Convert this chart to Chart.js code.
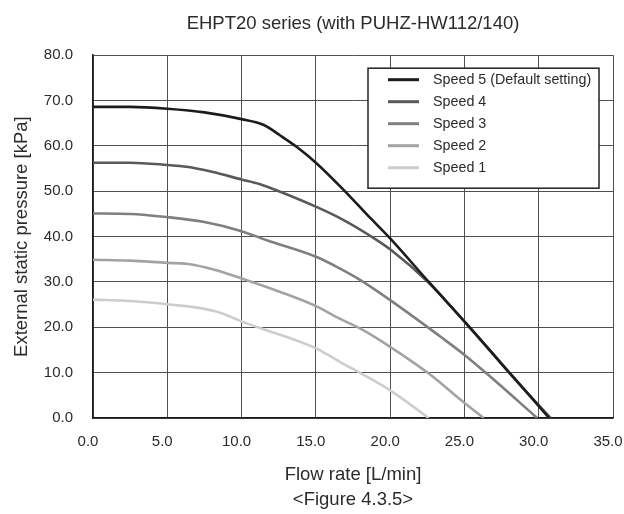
<!DOCTYPE html>
<html>
<head>
<meta charset="utf-8">
<script src="https://cdn.jsdelivr.net/npm/chart.js@4/dist/chart.umd.min.js"></script>
<style>
  html, body { margin: 0; padding: 0; background: #fff; }
  #wrap { width: 624px; height: 514px; }
</style>
</head>
<body>
<div id="wrap"><canvas id="chart" width="624" height="514"></canvas></div>
<script>
// values
const speedLabels = ['Speed 5 (Default setting)', 'Speed 4', 'Speed 3', 'Speed 2', 'Speed 1'];

const speed5Flow = [0, 2.5, 5, 7.5, 10, 11.5, 12.6, 13.7, 15, 16.9, 18.4, 20, 22.6, 25.2, 28.3, 30.7];
const speed5Pres = [68.6, 68.6, 68.2, 67.4, 65.9, 64.6, 62.3, 59.8, 56.3, 50.2, 45.0, 39.6, 30.0, 20.6, 9.0, 0];

const speed4Flow = [0, 2.5, 5, 6.3, 8, 10, 11.2, 12.6, 15, 16.9, 18.6, 20, 22.6, 25.2, 28.3, 30.8];
const speed4Pres = [56.3, 56.3, 55.8, 55.4, 54.3, 52.6, 51.6, 49.9, 46.6, 43.6, 40.3, 37.2, 29.8, 20.5, 8.9, 0];

const speed3Flow = [0, 2.5, 5, 7.5, 10, 11.7, 15.05, 16.6, 18, 20, 22.5, 23.4, 25.05, 26.5, 29.9];
const speed3Pres = [45.1, 45.0, 44.3, 43.2, 41.2, 39.2, 35.5, 33.0, 30.4, 26.0, 20.1, 17.9, 13.8, 9.8, 0];

const speed2Flow = [0, 2.5, 5, 6.3, 8.3, 10.07, 12.6, 15.05, 16.6, 18, 20, 22.6, 25.05, 26.3];
const speed2Pres = [34.9, 34.7, 34.2, 34.0, 32.6, 30.7, 27.8, 24.6, 21.9, 19.7, 15.7, 9.8, 3.2, 0];

const speed1Flow = [0, 2.5, 5, 8.3, 10.07, 11.2, 15.05, 16.6, 18, 20, 22.6];
const speed1Pres = [26.1, 25.8, 25.1, 23.5, 21.2, 19.9, 15.3, 12.4, 9.9, 6.1, 0];

const speedColors = ['#1c1c1c', '#595959', '#7f7f7f', '#a3a3a3', '#cdcdcd'];

function toPoints(xs, ys) {
  return xs.map((x, i) => ({ x: x, y: ys[i] }));
}

const series = [
  toPoints(speed5Flow, speed5Pres),
  toPoints(speed4Flow, speed4Pres),
  toPoints(speed3Flow, speed3Pres),
  toPoints(speed2Flow, speed2Pres),
  toPoints(speed1Flow, speed1Pres)
];

const FONT = "'Liberation Sans', Arial, sans-serif";
const TEXT = '#2b2b2b';

// legend box drawn inside the plot, top right
const boxLegend = {
  id: 'boxLegend',
  afterDatasetsDraw(chart) {
    const ctx = chart.ctx;
    const area = chart.chartArea;
    const w = 231, h = 120;
    const left = area.right - 14 - w;
    const top = area.top + 13;
    ctx.save();
    ctx.fillStyle = '#fff';
    ctx.fillRect(left, top, w, h);
    ctx.strokeStyle = '#222';
    ctx.lineWidth = 1.5;
    ctx.strokeRect(left, top, w, h);
    ctx.font = '14.3px ' + FONT;
    ctx.textBaseline = 'middle';
    ctx.fillStyle = TEXT;
    chart.data.datasets.forEach((ds, i) => {
      const y = top + 11.5 + i * 22;
      ctx.strokeStyle = ds.borderColor;
      ctx.lineWidth = 3;
      ctx.beginPath();
      ctx.moveTo(left + 20, y);
      ctx.lineTo(left + 51, y);
      ctx.stroke();
      ctx.fillText(ds.label, left + 65, y);
    });
    ctx.restore();
  }
};

new Chart(document.getElementById('chart').getContext('2d'), {
  type: 'line',
  data: {
    datasets: series.map((pts, i) => ({
      label: speedLabels[i],
      data: pts,
      borderColor: speedColors[i],
      backgroundColor: speedColors[i],
      borderWidth: 2.6,
      pointRadius: 0,
      cubicInterpolationMode: 'monotone',
      fill: false
    }))
  },
  options: {
    responsive: false,
    animation: false,
    layout: { padding: { left: 0, right: 11, top: 0, bottom: 0 } },
    plugins: {
      legend: { display: false },
      tooltip: { enabled: false },
      title: {
        display: true,
        fullSize: false,
        text: 'EHPT20 series (with PUHZ-HW112/140)',
        color: TEXT,
        font: { family: FONT, size: 18.5, weight: 'normal' },
        padding: { top: 13, bottom: 20 }
      }
    },
    scales: {
      x: {
        type: 'linear',
        min: 0,
        max: 35,
        ticks: {
          stepSize: 5,
          padding: 15,
          labelOffset: -5,
          color: TEXT,
          font: { family: FONT, size: 15 },
          maxRotation: 0,
          callback: v => v.toFixed(1)
        },
        grid: { color: '#505050', lineWidth: 1, drawTicks: false },
        border: { color: '#1a1a1a', width: 1.5 },
        title: {
          display: true,
          text: ['Flow rate [L/min]', '<Figure 4.3.5>'],
          color: TEXT,
          font: { family: FONT, size: 18.5, lineHeight: 1.35 },
          padding: { top: 0, bottom: 1.5 }
        },
        afterFit(scale) {
          scale.height = 96;
          scale.paddingLeft = 0;
          scale.paddingRight = 0;
        }
      },
      y: {
        min: 0,
        max: 80,
        ticks: {
          stepSize: 10,
          padding: 20,
          color: TEXT,
          font: { family: FONT, size: 15 },
          callback: v => v.toFixed(1)
        },
        grid: { color: '#505050', lineWidth: 1, drawTicks: false },
        border: { color: '#1a1a1a', width: 1.5 },
        title: {
          display: true,
          text: 'External static pressure [kPa]',
          color: TEXT,
          font: { family: FONT, size: 18.5 },
          padding: { top: 11, bottom: 0 }
        },
        afterFit(scale) {
          scale.width = 93;
          scale.paddingTop = 0;
          scale.paddingBottom = 0;
        }
      }
    }
  },
  plugins: [boxLegend]
});
</script>
</body>
</html>
